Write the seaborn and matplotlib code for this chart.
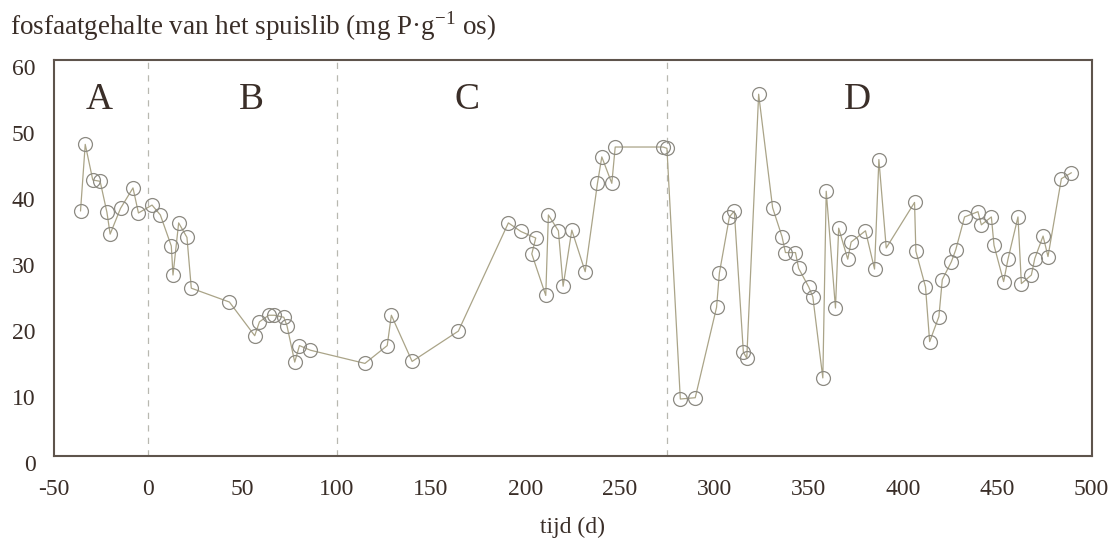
import numpy as np
import pandas as pd
import matplotlib
matplotlib.use("Agg")
import matplotlib.pyplot as plt
import matplotlib.transforms as mtransforms
import seaborn as sns

# tijd (d) en fosfaatgehalte (mg P/g os)
tijd = [-35.7, -33.2, -29.2, -25.3, -21.7, -20.0, -14.5, -7.9, -5.0, 2.2,
        6.6, 12.4, 13.3, 16.3, 20.7, 23.0, 43.2, 56.6, 59.1, 64.0,
        67.0, 72.0, 73.7, 77.8, 80.3, 86.1, 115.0, 126.8, 129.0, 140.0,
        164.5, 191.0, 197.6, 205.5, 203.4, 210.8, 212.2, 217.5, 220.0, 224.6,
        231.7, 238.2, 240.5, 245.8, 247.6, 273.0, 275.0, 282.1, 290.0, 301.3,
        302.8, 308.1, 310.7, 315.5, 317.3, 323.6, 331.0, 336.0, 337.8, 343.1,
        344.8, 350.1, 352.3, 357.6, 359.4, 364.3, 366.0, 370.8, 372.6, 380.2,
        385.0, 387.3, 391.2, 406.2, 406.9, 412.0, 414.2, 419.1, 420.9, 425.7,
        428.0, 432.7, 439.8, 441.6, 446.9, 448.3, 453.4, 455.7, 461.0, 462.8,
        468.1, 469.9, 474.3, 476.9, 484.0, 489.3]
fosfaat = [37.1, 47.2, 41.8, 41.6, 36.9, 33.6, 37.5, 40.6, 36.8, 38.0,
           36.5, 31.8, 27.4, 35.3, 33.1, 25.4, 23.3, 18.2, 20.3, 21.3,
           21.3, 21.0, 19.7, 14.2, 16.7, 16.0, 14.0, 16.7, 21.3, 14.3,
           18.9, 35.3, 34.0, 33.0, 30.6, 24.3, 36.5, 34.1, 25.7, 34.2,
           27.9, 41.3, 45.3, 41.3, 46.8, 46.8, 46.6, 8.6, 8.8, 22.5,
           27.7, 36.2, 37.1, 15.7, 14.8, 54.8, 37.6, 33.2, 30.8, 30.8,
           28.4, 25.6, 24.1, 11.8, 40.1, 22.4, 34.5, 29.8, 32.4, 34.1,
           28.3, 44.9, 31.5, 38.4, 31.0, 25.6, 17.3, 21.1, 26.7, 29.4,
           31.2, 36.2, 37.0, 35.0, 36.2, 31.9, 26.4, 29.8, 36.2, 26.1,
           27.4, 29.9, 33.3, 30.2, 42.0, 42.9]

fasen = ["A", "B", "C", "D"]
fase_x = [-26, 55, 169, 376]
grenzen = [0, 100, 275]

df = pd.DataFrame({"tijd": tijd, "fosfaat": fosfaat})

sns.set_style("white")
plt.rcParams["font.family"] = ["Liberation Serif", "DejaVu Serif"]
plt.rcParams["axes.unicode_minus"] = False
plt.rcParams["mathtext.fontset"] = "custom"
plt.rcParams["mathtext.rm"] = "Liberation Serif"

tekst = "#3a2e28"

fig = plt.figure(figsize=(11.15, 5.4), dpi=100)
ax = fig.add_axes([0.048, 0.156, 0.931, 0.733])

for g in grenzen:
    ax.axvline(g, color="#b8b8b0", lw=0.9, ls=(0, (5, 5)), zorder=1)

sns.lineplot(data=df, x="tijd", y="fosfaat", sort=False, ax=ax,
             color="#aaa488", lw=0.9, marker="o", markersize=10,
             markerfacecolor="none", markeredgecolor="#8c8a82",
             markeredgewidth=0.9, zorder=3)

for lab, xp in zip(fasen, fase_x):
    ax.text(xp, 54, lab, fontsize=27, ha="center", va="center", color=tekst)

ax.set_xlim(-50, 500)
ax.set_ylim(0, 60)
ax.set_xticks(np.arange(-50, 501, 50))
ax.set_xticks(np.arange(-50, 501, 25), minor=True)
ax.set_yticks(np.arange(0, 61, 10))
ax.tick_params(axis="both", which="both", direction="in", labelsize=17,
               colors=tekst, length=5, width=1)
ax.tick_params(axis="x", which="minor", length=3)
ax.tick_params(axis="x", pad=17)
ax.tick_params(axis="y", pad=13)

# y-labels staan in het origineel iets lager dan de tick
schuif = mtransforms.ScaledTranslation(0, -5 / 72, fig.dpi_scale_trans)
for lbl in ax.get_yticklabels():
    lbl.set_transform(lbl.get_transform() + schuif)

for s in ax.spines.values():
    s.set_color("#5e544c")
    s.set_linewidth(1.5)

ax.set_xlabel("tijd (d)", fontsize=17, color=tekst, labelpad=12)
ax.set_ylabel("")
fig.text(0.009, 0.952, "fosfaatgehalte van het spuislib (mg P\u00b7g$^{\\mathregular{-1}}$ os)",
         fontsize=19.5, color=tekst, ha="left", va="center")

fig.savefig("out.png", dpi=100, facecolor="white")
